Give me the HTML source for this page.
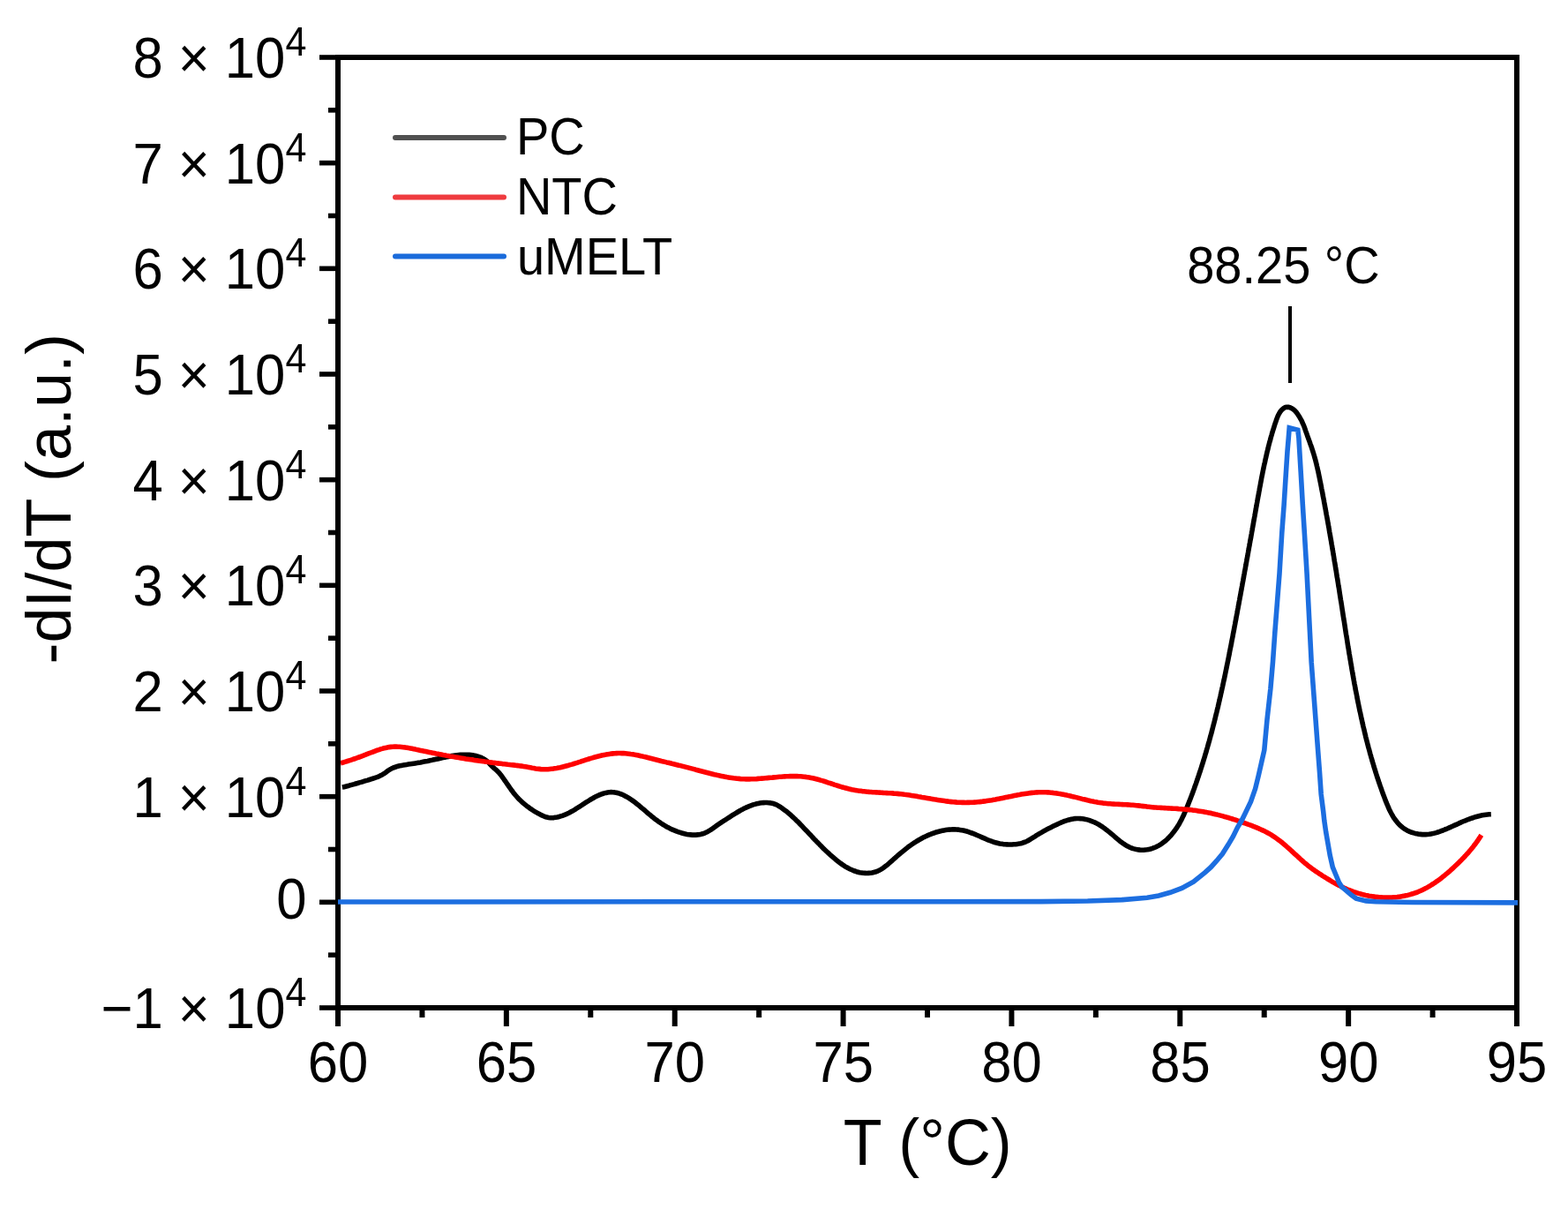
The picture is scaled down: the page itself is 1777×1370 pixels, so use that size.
<!DOCTYPE html>
<html><head><meta charset="utf-8"><title>Melt curve</title>
<style>html,body{margin:0;padding:0;background:#fff;}body{width:1777px;height:1370px;overflow:hidden;}svg{display:block;}</style>
</head><body>
<svg width="1777" height="1370" viewBox="0 0 1777 1370" font-family="'Liberation Sans', Arial, sans-serif" fill="#000">
<path d="M387.8,892.1 L389.8,891.7 L391.7,891.2 L393.6,890.7 L395.6,890.2 L397.5,889.6 L399.4,889.1 L401.4,888.6 L403.3,888.0 L405.2,887.5 L407.1,886.9 L409.1,886.4 L411.0,885.8 L412.9,885.2 L414.8,884.6 L416.7,884.1 L418.6,883.5 L420.5,882.9 L422.5,882.3 L424.4,881.7 L426.2,881.0 L428.1,880.3 L430.0,879.5 L431.8,878.6 L433.5,877.7 L435.2,876.7 L436.9,875.5 L438.5,874.3 L440.1,873.1 L441.8,872.0 L443.5,871.1 L445.3,870.2 L447.2,869.5 L449.1,868.8 L451.0,868.3 L452.9,867.8 L454.9,867.4 L456.9,867.1 L458.8,866.7 L460.8,866.4 L462.8,866.1 L464.8,865.8 L466.8,865.5 L468.7,865.2 L470.7,864.9 L472.7,864.6 L474.6,864.2 L476.6,863.9 L478.6,863.5 L480.6,863.1 L482.5,862.7 L484.5,862.4 L486.4,862.0 L488.4,861.6 L490.4,861.1 L492.3,860.7 L494.3,860.3 L496.2,859.9 L498.2,859.5 L500.1,859.0 L502.1,858.6 L504.0,858.2 L506.0,857.8 L508.0,857.4 L509.9,857.0 L511.9,856.6 L513.9,856.3 L515.8,856.0 L517.8,855.8 L519.8,855.6 L521.8,855.4 L523.8,855.3 L525.8,855.2 L527.8,855.2 L529.8,855.3 L531.8,855.4 L533.8,855.6 L535.8,855.8 L537.8,856.2 L539.7,856.6 L541.6,857.1 L543.5,857.8 L545.4,858.5 L547.2,859.4 L548.9,860.4 L550.6,861.5 L552.2,862.7 L553.6,864.1 L555.0,865.5 L556.4,867.0 L557.8,868.4 L559.2,869.8 L560.7,871.1 L562.3,872.4 L563.7,873.8 L565.1,875.2 L566.4,876.7 L567.7,878.3 L568.9,879.9 L570.0,881.5 L571.2,883.2 L572.3,884.8 L573.5,886.4 L574.6,888.1 L575.7,889.7 L576.9,891.4 L578.0,893.0 L579.2,894.7 L580.4,896.3 L581.6,897.9 L582.8,899.4 L584.1,901.0 L585.4,902.5 L586.7,904.0 L588.1,905.4 L589.5,906.8 L591.0,908.2 L592.5,909.6 L594.0,910.9 L595.5,912.1 L597.1,913.4 L598.7,914.6 L600.3,915.8 L602.0,916.9 L603.6,918.0 L605.3,919.1 L607.0,920.1 L608.8,921.1 L610.5,922.1 L612.3,923.0 L614.1,923.9 L615.9,924.7 L617.7,925.5 L619.7,926.1 L621.6,926.5 L623.6,926.7 L625.6,926.8 L627.6,926.6 L629.6,926.3 L631.5,926.0 L633.5,925.5 L635.4,924.9 L637.3,924.3 L639.2,923.6 L641.0,922.9 L642.9,922.1 L644.7,921.2 L646.4,920.3 L648.2,919.3 L649.9,918.3 L651.6,917.3 L653.3,916.2 L655.0,915.2 L656.7,914.1 L658.4,913.0 L660.1,911.9 L661.7,910.8 L663.4,909.7 L665.1,908.6 L666.8,907.6 L668.5,906.5 L670.2,905.5 L672.0,904.5 L673.7,903.5 L675.5,902.6 L677.3,901.7 L679.1,900.9 L681.0,900.1 L682.8,899.5 L684.7,898.9 L686.7,898.4 L688.6,898.0 L690.6,897.7 L692.6,897.6 L694.6,897.7 L696.6,897.9 L698.6,898.2 L700.5,898.7 L702.4,899.3 L704.3,900.0 L706.1,900.8 L707.9,901.7 L709.7,902.7 L711.4,903.7 L713.1,904.7 L714.8,905.8 L716.4,906.9 L718.1,908.1 L719.7,909.3 L721.2,910.5 L722.8,911.8 L724.4,913.0 L725.9,914.3 L727.4,915.6 L729.0,916.9 L730.5,918.2 L732.0,919.5 L733.5,920.8 L735.0,922.1 L736.6,923.4 L738.1,924.7 L739.7,925.9 L741.2,927.2 L742.8,928.4 L744.4,929.6 L746.0,930.8 L747.7,931.9 L749.3,933.0 L751.0,934.1 L752.7,935.2 L754.4,936.2 L756.2,937.2 L758.0,938.1 L759.7,939.0 L761.5,939.9 L763.4,940.7 L765.2,941.4 L767.1,942.2 L769.0,942.8 L770.9,943.4 L772.8,944.0 L774.7,944.5 L776.7,945.0 L778.6,945.4 L780.6,945.7 L782.6,945.9 L784.6,946.1 L786.6,946.1 L788.6,946.1 L790.6,945.9 L792.6,945.7 L794.5,945.3 L796.5,944.8 L798.4,944.1 L800.2,943.3 L802.0,942.4 L803.7,941.4 L805.4,940.4 L807.1,939.2 L808.7,938.1 L810.3,936.9 L811.9,935.7 L813.6,934.6 L815.2,933.4 L816.9,932.3 L818.6,931.2 L820.2,930.1 L821.9,929.1 L823.6,928.0 L825.3,926.9 L827.0,925.8 L828.7,924.7 L830.3,923.7 L832.0,922.6 L833.7,921.6 L835.5,920.5 L837.2,919.5 L838.9,918.5 L840.7,917.6 L842.4,916.6 L844.2,915.7 L846.0,914.9 L847.9,914.1 L849.7,913.3 L851.6,912.6 L853.5,911.9 L855.4,911.4 L857.3,910.8 L859.3,910.4 L861.2,910.1 L863.2,909.8 L865.2,909.6 L867.2,909.5 L869.2,909.5 L871.2,909.7 L873.2,909.9 L875.2,910.3 L877.1,910.8 L879.0,911.5 L880.8,912.3 L882.5,913.3 L884.2,914.4 L885.9,915.5 L887.5,916.7 L889.1,917.9 L890.7,919.1 L892.3,920.3 L893.8,921.6 L895.3,922.9 L896.8,924.2 L898.3,925.6 L899.8,927.0 L901.2,928.3 L902.6,929.7 L904.1,931.1 L905.5,932.5 L906.9,934.0 L908.3,935.4 L909.7,936.9 L911.0,938.3 L912.4,939.8 L913.8,941.2 L915.2,942.7 L916.5,944.1 L917.9,945.6 L919.3,947.0 L920.6,948.5 L922.0,950.0 L923.4,951.4 L924.8,952.8 L926.2,954.3 L927.6,955.7 L929.0,957.2 L930.4,958.6 L931.8,960.0 L933.2,961.4 L934.6,962.8 L936.1,964.2 L937.5,965.5 L939.0,966.9 L940.5,968.3 L942.0,969.6 L943.5,970.9 L945.0,972.2 L946.5,973.5 L948.1,974.8 L949.6,976.0 L951.2,977.2 L952.8,978.4 L954.5,979.6 L956.1,980.7 L957.8,981.8 L959.5,982.8 L961.3,983.8 L963.1,984.7 L964.9,985.5 L966.7,986.3 L968.6,987.0 L970.5,987.7 L972.4,988.2 L974.3,988.7 L976.3,989.0 L978.3,989.3 L980.3,989.4 L982.3,989.5 L984.3,989.4 L986.3,989.3 L988.3,989.0 L990.2,988.5 L992.1,988.0 L994.0,987.3 L995.9,986.5 L997.6,985.6 L999.3,984.6 L1001.0,983.5 L1002.6,982.3 L1004.2,981.1 L1005.8,979.8 L1007.3,978.5 L1008.8,977.2 L1010.3,975.9 L1011.8,974.5 L1013.3,973.2 L1014.8,971.9 L1016.3,970.5 L1017.8,969.2 L1019.3,967.9 L1020.8,966.6 L1022.4,965.3 L1023.9,964.1 L1025.5,962.8 L1027.0,961.6 L1028.6,960.3 L1030.2,959.1 L1031.8,958.0 L1033.5,956.8 L1035.1,955.7 L1036.8,954.6 L1038.5,953.5 L1040.2,952.5 L1041.9,951.5 L1043.7,950.5 L1045.4,949.5 L1047.2,948.6 L1049.0,947.8 L1050.8,946.9 L1052.6,946.1 L1054.5,945.4 L1056.4,944.6 L1058.2,944.0 L1060.1,943.3 L1062.1,942.7 L1064.0,942.2 L1065.9,941.7 L1067.9,941.3 L1069.8,940.9 L1071.8,940.6 L1073.8,940.3 L1075.8,940.1 L1077.8,940.0 L1079.8,939.9 L1081.8,939.9 L1083.8,940.0 L1085.8,940.1 L1087.8,940.4 L1089.7,940.7 L1091.7,941.0 L1093.6,941.5 L1095.6,942.0 L1097.5,942.6 L1099.4,943.3 L1101.3,944.0 L1103.1,944.7 L1105.0,945.4 L1106.8,946.2 L1108.7,947.0 L1110.5,947.8 L1112.3,948.6 L1114.1,949.4 L1116.0,950.2 L1117.8,951.0 L1119.7,951.8 L1121.5,952.5 L1123.4,953.2 L1125.3,953.9 L1127.2,954.5 L1129.1,955.0 L1131.1,955.5 L1133.0,956.0 L1135.0,956.3 L1137.0,956.6 L1139.0,956.8 L1141.0,956.9 L1142.9,957.0 L1144.9,957.0 L1146.9,957.0 L1148.9,956.8 L1150.9,956.7 L1152.9,956.4 L1154.9,956.1 L1156.9,955.7 L1158.8,955.2 L1160.7,954.5 L1162.6,953.8 L1164.4,953.0 L1166.1,952.0 L1167.8,951.0 L1169.5,949.9 L1171.2,948.8 L1172.9,947.8 L1174.6,946.7 L1176.3,945.7 L1178.0,944.6 L1179.8,943.6 L1181.5,942.6 L1183.2,941.6 L1185.0,940.7 L1186.7,939.7 L1188.5,938.8 L1190.3,937.9 L1192.1,937.0 L1193.9,936.1 L1195.7,935.2 L1197.5,934.4 L1199.3,933.5 L1201.1,932.7 L1203.0,931.9 L1204.8,931.2 L1206.7,930.4 L1208.6,929.8 L1210.5,929.2 L1212.4,928.7 L1214.4,928.2 L1216.3,927.9 L1218.3,927.6 L1220.3,927.5 L1222.3,927.5 L1224.3,927.6 L1226.3,927.8 L1228.3,928.1 L1230.2,928.4 L1232.2,928.9 L1234.1,929.4 L1236.0,930.1 L1237.9,930.8 L1239.7,931.5 L1241.6,932.4 L1243.3,933.3 L1245.1,934.2 L1246.8,935.3 L1248.5,936.4 L1250.1,937.5 L1251.8,938.7 L1253.3,939.9 L1254.9,941.1 L1256.5,942.4 L1258.0,943.6 L1259.5,944.9 L1261.1,946.2 L1262.6,947.5 L1264.1,948.8 L1265.6,950.1 L1267.2,951.4 L1268.7,952.7 L1270.3,953.9 L1271.9,955.1 L1273.5,956.2 L1275.2,957.3 L1276.9,958.4 L1278.7,959.3 L1280.5,960.2 L1282.3,961.0 L1284.2,961.6 L1286.2,962.1 L1288.1,962.6 L1290.1,962.9 L1292.1,963.1 L1294.1,963.2 L1296.1,963.2 L1298.1,963.0 L1300.1,962.8 L1302.0,962.4 L1304.0,962.0 L1305.9,961.4 L1307.8,960.7 L1309.6,960.0 L1311.4,959.1 L1313.2,958.1 L1314.9,957.1 L1316.6,956.0 L1318.2,954.8 L1319.8,953.6 L1321.3,952.3 L1322.8,951.0 L1324.2,949.6 L1325.6,948.1 L1327.0,946.7 L1328.3,945.1 L1329.5,943.6 L1330.7,942.0 L1331.9,940.4 L1333.1,938.8 L1334.2,937.1 L1335.2,935.4 L1336.3,933.7 L1337.2,931.9 L1338.2,930.2 L1339.1,928.4 L1340.0,926.6 L1340.9,924.8 L1341.7,923.0 L1342.5,921.2 L1343.3,919.3 L1344.1,917.5 L1344.9,915.6 L1345.6,913.8 L1346.4,911.9 L1347.1,910.1 L1347.8,908.2 L1348.6,906.3 L1349.3,904.5 L1350.0,902.6 L1350.7,900.7 L1351.4,898.9 L1352.1,897.0 L1352.8,895.1 L1353.5,893.2 L1354.1,891.3 L1354.8,889.5 L1355.5,887.6 L1356.1,885.7 L1356.8,883.8 L1357.4,881.9 L1358.1,880.0 L1358.7,878.1 L1359.3,876.2 L1360.0,874.3 L1360.6,872.4 L1361.2,870.5 L1361.8,868.6 L1362.4,866.7 L1363.0,864.8 L1363.6,862.9 L1364.2,860.9 L1364.8,859.0 L1365.4,857.1 L1365.9,855.2 L1366.5,853.3 L1367.1,851.4 L1367.6,849.4 L1368.2,847.5 L1368.7,845.6 L1369.3,843.7 L1369.8,841.7 L1370.4,839.8 L1370.9,837.9 L1371.4,836.0 L1371.9,834.0 L1372.5,832.1 L1373.0,830.2 L1373.5,828.2 L1374.0,826.3 L1374.5,824.4 L1375.0,822.4 L1375.5,820.5 L1376.0,818.6 L1376.5,816.6 L1377.0,814.7 L1377.4,812.7 L1377.9,810.8 L1378.4,808.8 L1378.9,806.9 L1379.3,805.0 L1379.8,803.0 L1380.3,801.1 L1380.7,799.1 L1381.2,797.2 L1381.6,795.2 L1382.1,793.3 L1382.5,791.3 L1383.0,789.4 L1383.4,787.4 L1383.8,785.5 L1384.3,783.5 L1384.7,781.6 L1385.1,779.6 L1385.6,777.6 L1386.0,775.7 L1386.4,773.7 L1386.8,771.8 L1387.3,769.8 L1387.7,767.9 L1388.1,765.9 L1388.5,764.0 L1388.9,762.0 L1389.3,760.0 L1389.7,758.1 L1390.1,756.1 L1390.5,754.2 L1390.9,752.2 L1391.3,750.2 L1391.7,748.3 L1392.1,746.3 L1392.5,744.3 L1392.9,742.4 L1393.3,740.4 L1393.6,738.5 L1394.0,736.5 L1394.4,734.5 L1394.8,732.6 L1395.2,730.6 L1395.6,728.6 L1395.9,726.7 L1396.3,724.7 L1396.7,722.7 L1397.1,720.8 L1397.4,718.8 L1397.8,716.9 L1398.2,714.9 L1398.6,712.9 L1398.9,711.0 L1399.3,709.0 L1399.7,707.0 L1400.0,705.1 L1400.4,703.1 L1400.8,701.1 L1401.1,699.2 L1401.5,697.2 L1401.9,695.2 L1402.2,693.3 L1402.6,691.3 L1403.0,689.3 L1403.3,687.4 L1403.7,685.4 L1404.1,683.4 L1404.4,681.5 L1404.8,679.5 L1405.1,677.5 L1405.5,675.6 L1405.9,673.6 L1406.2,671.6 L1406.6,669.6 L1407.0,667.7 L1407.3,665.7 L1407.7,663.7 L1408.0,661.8 L1408.4,659.8 L1408.8,657.8 L1409.1,655.9 L1409.5,653.9 L1409.8,651.9 L1410.2,650.0 L1410.5,648.0 L1410.9,646.0 L1411.3,644.1 L1411.6,642.1 L1412.0,640.1 L1412.3,638.2 L1412.7,636.2 L1413.0,634.2 L1413.4,632.3 L1413.8,630.3 L1414.1,628.3 L1414.5,626.3 L1414.8,624.4 L1415.2,622.4 L1415.5,620.4 L1415.9,618.5 L1416.2,616.5 L1416.6,614.5 L1416.9,612.6 L1417.3,610.6 L1417.7,608.6 L1418.0,606.7 L1418.4,604.7 L1418.7,602.7 L1419.1,600.7 L1419.4,598.8 L1419.8,596.8 L1420.1,594.8 L1420.5,592.9 L1420.8,590.9 L1421.2,588.9 L1421.5,587.0 L1421.9,585.0 L1422.2,583.0 L1422.6,581.1 L1422.9,579.1 L1423.3,577.1 L1423.6,575.1 L1424.0,573.2 L1424.3,571.2 L1424.7,569.2 L1425.0,567.3 L1425.4,565.3 L1425.7,563.3 L1426.1,561.4 L1426.5,559.4 L1426.8,557.4 L1427.2,555.5 L1427.5,553.5 L1427.9,551.5 L1428.3,549.6 L1428.6,547.6 L1429.0,545.6 L1429.4,543.7 L1429.7,541.7 L1430.1,539.7 L1430.5,537.8 L1430.9,535.8 L1431.3,533.8 L1431.7,531.9 L1432.1,529.9 L1432.5,528.0 L1432.9,526.0 L1433.4,524.1 L1433.8,522.1 L1434.2,520.1 L1434.7,518.2 L1435.1,516.2 L1435.6,514.3 L1436.0,512.3 L1436.5,510.4 L1437.0,508.5 L1437.4,506.5 L1437.9,504.6 L1438.4,502.6 L1438.9,500.7 L1439.5,498.8 L1440.0,496.8 L1440.5,494.9 L1441.1,493.0 L1441.6,491.1 L1442.2,489.2 L1442.8,487.2 L1443.4,485.3 L1444.0,483.4 L1444.6,481.5 L1445.2,479.6 L1445.9,477.7 L1446.5,475.8 L1447.2,474.0 L1447.9,472.1 L1448.7,470.3 L1449.7,468.5 L1450.7,466.8 L1451.9,465.2 L1453.3,463.8 L1454.9,462.5 L1456.7,461.6 L1458.6,461.2 L1460.6,461.4 L1462.5,462.0 L1464.3,462.9 L1465.9,464.0 L1467.5,465.3 L1468.8,466.8 L1470.0,468.4 L1471.1,470.0 L1472.2,471.7 L1473.2,473.4 L1474.2,475.2 L1475.2,476.9 L1476.0,478.8 L1476.8,480.6 L1477.6,482.4 L1478.3,484.3 L1479.0,486.2 L1479.6,488.1 L1480.3,490.0 L1481.0,491.9 L1481.6,493.7 L1482.3,495.6 L1483.0,497.5 L1483.7,499.4 L1484.4,501.3 L1485.0,503.1 L1485.7,505.0 L1486.4,506.9 L1487.0,508.8 L1487.6,510.7 L1488.2,512.6 L1488.8,514.5 L1489.4,516.5 L1489.9,518.4 L1490.5,520.3 L1491.0,522.2 L1491.5,524.2 L1492.0,526.1 L1492.4,528.1 L1492.9,530.0 L1493.3,532.0 L1493.8,533.9 L1494.2,535.9 L1494.6,537.8 L1495.0,539.8 L1495.4,541.7 L1495.8,543.7 L1496.2,545.7 L1496.6,547.6 L1497.0,549.6 L1497.4,551.6 L1497.7,553.5 L1498.1,555.5 L1498.5,557.4 L1498.9,559.4 L1499.2,561.4 L1499.6,563.3 L1500.0,565.3 L1500.4,567.3 L1500.7,569.2 L1501.1,571.2 L1501.4,573.2 L1501.8,575.1 L1502.2,577.1 L1502.5,579.1 L1502.9,581.0 L1503.2,583.0 L1503.6,585.0 L1504.0,587.0 L1504.3,588.9 L1504.7,590.9 L1505.0,592.9 L1505.4,594.8 L1505.7,596.8 L1506.1,598.8 L1506.4,600.7 L1506.7,602.7 L1507.1,604.7 L1507.4,606.7 L1507.8,608.6 L1508.1,610.6 L1508.5,612.6 L1508.8,614.5 L1509.1,616.5 L1509.5,618.5 L1509.8,620.5 L1510.1,622.4 L1510.5,624.4 L1510.8,626.4 L1511.1,628.4 L1511.5,630.3 L1511.8,632.3 L1512.1,634.3 L1512.4,636.2 L1512.8,638.2 L1513.1,640.2 L1513.4,642.2 L1513.7,644.1 L1514.1,646.1 L1514.4,648.1 L1514.7,650.1 L1515.0,652.0 L1515.3,654.0 L1515.7,656.0 L1516.0,658.0 L1516.3,659.9 L1516.6,661.9 L1516.9,663.9 L1517.3,665.9 L1517.6,667.8 L1517.9,669.8 L1518.2,671.8 L1518.5,673.8 L1518.8,675.7 L1519.1,677.7 L1519.4,679.7 L1519.8,681.7 L1520.1,683.6 L1520.4,685.6 L1520.7,687.6 L1521.0,689.6 L1521.3,691.6 L1521.6,693.5 L1521.9,695.5 L1522.2,697.5 L1522.5,699.5 L1522.8,701.4 L1523.2,703.4 L1523.5,705.4 L1523.8,707.4 L1524.1,709.3 L1524.4,711.3 L1524.7,713.3 L1525.0,715.3 L1525.3,717.2 L1525.6,719.2 L1526.0,721.2 L1526.3,723.2 L1526.6,725.2 L1526.9,727.1 L1527.2,729.1 L1527.5,731.1 L1527.8,733.1 L1528.2,735.0 L1528.5,737.0 L1528.8,739.0 L1529.1,741.0 L1529.5,742.9 L1529.8,744.9 L1530.1,746.9 L1530.5,748.8 L1530.8,750.8 L1531.1,752.8 L1531.5,754.8 L1531.8,756.7 L1532.1,758.7 L1532.5,760.7 L1532.8,762.6 L1533.2,764.6 L1533.5,766.6 L1533.9,768.6 L1534.2,770.5 L1534.6,772.5 L1534.9,774.5 L1535.3,776.4 L1535.7,778.4 L1536.0,780.4 L1536.4,782.3 L1536.8,784.3 L1537.2,786.3 L1537.6,788.2 L1537.9,790.2 L1538.3,792.1 L1538.7,794.1 L1539.1,796.1 L1539.5,798.0 L1539.9,800.0 L1540.3,801.9 L1540.7,803.9 L1541.1,805.9 L1541.6,807.8 L1542.0,809.8 L1542.4,811.7 L1542.8,813.7 L1543.3,815.6 L1543.7,817.6 L1544.1,819.5 L1544.6,821.5 L1545.0,823.4 L1545.5,825.4 L1546.0,827.3 L1546.4,829.3 L1546.9,831.2 L1547.4,833.2 L1547.8,835.1 L1548.3,837.1 L1548.8,839.0 L1549.3,840.9 L1549.8,842.9 L1550.3,844.8 L1550.8,846.7 L1551.4,848.7 L1551.9,850.6 L1552.4,852.5 L1552.9,854.5 L1553.5,856.4 L1554.0,858.3 L1554.6,860.2 L1555.1,862.2 L1555.7,864.1 L1556.3,866.0 L1556.8,867.9 L1557.4,869.8 L1558.0,871.7 L1558.6,873.6 L1559.2,875.6 L1559.8,877.5 L1560.4,879.4 L1561.0,881.3 L1561.7,883.2 L1562.3,885.1 L1562.9,887.0 L1563.6,888.9 L1564.2,890.7 L1564.9,892.6 L1565.6,894.5 L1566.2,896.4 L1566.9,898.3 L1567.6,900.2 L1568.3,902.0 L1569.0,903.9 L1569.7,905.8 L1570.4,907.7 L1571.2,909.5 L1571.9,911.4 L1572.7,913.2 L1573.5,915.0 L1574.3,916.9 L1575.2,918.7 L1576.1,920.5 L1577.0,922.2 L1578.0,924.0 L1579.0,925.7 L1580.1,927.4 L1581.3,929.0 L1582.5,930.6 L1583.7,932.1 L1585.1,933.6 L1586.5,935.1 L1588.0,936.4 L1589.5,937.7 L1591.1,938.8 L1592.8,939.9 L1594.5,940.9 L1596.3,941.8 L1598.2,942.6 L1600.0,943.3 L1602.0,943.9 L1603.9,944.4 L1605.8,944.8 L1607.8,945.2 L1609.8,945.4 L1611.8,945.6 L1613.8,945.6 L1615.8,945.6 L1617.8,945.5 L1619.8,945.3 L1621.8,944.9 L1623.7,944.6 L1625.7,944.1 L1627.6,943.6 L1629.5,943.0 L1631.4,942.4 L1633.3,941.7 L1635.2,941.0 L1637.0,940.2 L1638.9,939.5 L1640.7,938.7 L1642.5,937.9 L1644.4,937.1 L1646.2,936.2 L1648.0,935.4 L1649.8,934.6 L1651.7,933.8 L1653.5,932.9 L1655.3,932.1 L1657.1,931.3 L1659.0,930.5 L1660.8,929.8 L1662.7,929.0 L1664.5,928.3 L1666.4,927.6 L1668.3,927.0 L1670.2,926.3 L1672.1,925.7 L1674.0,925.2 L1676.0,924.7 L1677.9,924.2 L1679.9,923.8 L1681.9,923.5 L1683.8,923.2 L1685.8,923.0 L1687.8,922.8 L1689.8,922.7" fill="none" stroke="#000" stroke-width="5.6" stroke-linejoin="round" stroke-linecap="butt"/>
<path d="M386.0,864.7 L388.0,864.2 L389.9,863.7 L391.8,863.1 L393.7,862.5 L395.6,861.9 L397.5,861.3 L399.4,860.7 L401.3,860.0 L403.2,859.3 L405.1,858.7 L407.0,858.0 L408.8,857.3 L410.7,856.6 L412.6,855.9 L414.4,855.2 L416.3,854.4 L418.2,853.7 L420.0,853.0 L421.9,852.3 L423.8,851.6 L425.7,850.9 L427.5,850.2 L429.4,849.6 L431.3,848.9 L433.2,848.4 L435.2,847.8 L437.1,847.4 L439.1,847.0 L441.1,846.6 L443.0,846.4 L445.0,846.2 L447.0,846.1 L449.0,846.1 L451.0,846.2 L453.0,846.3 L455.0,846.5 L457.0,846.7 L459.0,846.9 L461.0,847.2 L462.9,847.6 L464.9,847.9 L466.9,848.3 L468.8,848.7 L470.8,849.1 L472.7,849.6 L474.7,850.0 L476.7,850.4 L478.6,850.8 L480.6,851.2 L482.5,851.6 L484.5,852.0 L486.5,852.4 L488.4,852.8 L490.4,853.2 L492.3,853.6 L494.3,854.0 L496.3,854.3 L498.2,854.7 L500.2,855.1 L502.2,855.5 L504.1,855.8 L506.1,856.2 L508.1,856.5 L510.0,856.9 L512.0,857.2 L514.0,857.6 L516.0,857.9 L517.9,858.2 L519.9,858.6 L521.9,858.9 L523.8,859.2 L525.8,859.5 L527.8,859.9 L529.8,860.2 L531.7,860.5 L533.7,860.8 L535.7,861.1 L537.7,861.4 L539.7,861.7 L541.6,861.9 L543.6,862.2 L545.6,862.5 L547.6,862.8 L549.6,863.1 L551.5,863.3 L553.5,863.6 L555.5,863.9 L557.5,864.1 L559.5,864.4 L561.5,864.6 L563.4,864.9 L565.4,865.1 L567.4,865.3 L569.4,865.6 L571.4,865.8 L573.4,866.0 L575.4,866.3 L577.4,866.5 L579.3,866.7 L581.3,866.9 L583.3,867.1 L585.3,867.4 L587.3,867.6 L589.3,867.9 L591.3,868.1 L593.2,868.4 L595.2,868.7 L597.2,869.1 L599.2,869.4 L601.1,869.8 L603.1,870.2 L605.1,870.5 L607.0,870.9 L609.0,871.2 L611.0,871.4 L613.0,871.6 L615.0,871.7 L617.0,871.8 L619.0,871.8 L621.0,871.7 L623.0,871.5 L625.0,871.3 L626.9,871.1 L628.9,870.8 L630.9,870.5 L632.9,870.1 L634.8,869.7 L636.8,869.2 L638.7,868.7 L640.6,868.2 L642.6,867.7 L644.5,867.2 L646.4,866.6 L648.3,866.1 L650.3,865.5 L652.2,864.9 L654.1,864.3 L656.0,863.7 L657.9,863.1 L659.8,862.4 L661.7,861.8 L663.6,861.2 L665.5,860.6 L667.4,860.0 L669.3,859.4 L671.2,858.9 L673.2,858.3 L675.1,857.8 L677.0,857.3 L679.0,856.8 L680.9,856.3 L682.9,855.8 L684.8,855.4 L686.8,855.1 L688.7,854.7 L690.7,854.4 L692.7,854.1 L694.7,853.9 L696.7,853.7 L698.7,853.6 L700.7,853.5 L702.7,853.5 L704.7,853.6 L706.7,853.6 L708.7,853.8 L710.7,854.0 L712.7,854.2 L714.6,854.5 L716.6,854.7 L718.6,855.1 L720.6,855.4 L722.5,855.8 L724.5,856.2 L726.4,856.7 L728.4,857.1 L730.3,857.6 L732.3,858.0 L734.2,858.5 L736.1,859.0 L738.1,859.5 L740.0,860.0 L742.0,860.5 L743.9,861.0 L745.8,861.5 L747.8,862.0 L749.7,862.5 L751.7,862.9 L753.6,863.4 L755.6,863.9 L757.5,864.3 L759.4,864.8 L761.4,865.3 L763.3,865.7 L765.3,866.2 L767.2,866.7 L769.2,867.2 L771.1,867.6 L773.0,868.1 L775.0,868.6 L776.9,869.1 L778.9,869.6 L780.8,870.1 L782.7,870.6 L784.7,871.1 L786.6,871.6 L788.5,872.2 L790.5,872.7 L792.4,873.2 L794.3,873.7 L796.3,874.2 L798.2,874.7 L800.1,875.2 L802.1,875.7 L804.0,876.2 L805.9,876.7 L807.9,877.2 L809.8,877.7 L811.8,878.1 L813.7,878.6 L815.7,879.0 L817.6,879.4 L819.6,879.8 L821.6,880.2 L823.5,880.6 L825.5,880.9 L827.5,881.2 L829.5,881.5 L831.4,881.8 L833.4,882.0 L835.4,882.3 L837.4,882.4 L839.4,882.6 L841.4,882.7 L843.4,882.8 L845.4,882.9 L847.4,882.9 L849.4,882.9 L851.4,882.8 L853.4,882.8 L855.4,882.7 L857.4,882.6 L859.4,882.4 L861.4,882.3 L863.4,882.1 L865.4,882.0 L867.4,881.8 L869.3,881.6 L871.3,881.4 L873.3,881.2 L875.3,881.1 L877.3,880.9 L879.3,880.7 L881.3,880.5 L883.3,880.3 L885.3,880.2 L887.3,880.0 L889.3,879.9 L891.3,879.8 L893.3,879.7 L895.3,879.6 L897.3,879.6 L899.3,879.6 L901.3,879.6 L903.3,879.6 L905.3,879.7 L907.3,879.8 L909.3,880.0 L911.3,880.2 L913.2,880.4 L915.2,880.7 L917.2,881.0 L919.2,881.4 L921.1,881.8 L923.1,882.3 L925.0,882.8 L926.9,883.3 L928.9,883.8 L930.8,884.4 L932.7,884.9 L934.6,885.5 L936.5,886.1 L938.4,886.8 L940.3,887.4 L942.2,888.0 L944.1,888.6 L946.0,889.3 L947.9,889.9 L949.8,890.5 L951.7,891.1 L953.6,891.7 L955.6,892.2 L957.5,892.8 L959.4,893.3 L961.4,893.8 L963.3,894.2 L965.3,894.7 L967.2,895.1 L969.2,895.4 L971.2,895.8 L973.1,896.1 L975.1,896.3 L977.1,896.6 L979.1,896.8 L981.1,897.0 L983.1,897.2 L985.1,897.4 L987.1,897.5 L989.1,897.7 L991.1,897.8 L993.1,897.9 L995.0,898.0 L997.0,898.1 L999.0,898.2 L1001.0,898.4 L1003.0,898.5 L1005.0,898.6 L1007.0,898.7 L1009.0,898.8 L1011.0,898.9 L1013.0,899.1 L1015.0,899.2 L1017.0,899.4 L1019.0,899.6 L1021.0,899.8 L1023.0,900.0 L1025.0,900.3 L1026.9,900.5 L1028.9,900.8 L1030.9,901.1 L1032.9,901.4 L1034.9,901.7 L1036.8,902.0 L1038.8,902.3 L1040.8,902.7 L1042.8,903.0 L1044.7,903.4 L1046.7,903.7 L1048.7,904.1 L1050.6,904.4 L1052.6,904.7 L1054.6,905.1 L1056.5,905.4 L1058.5,905.8 L1060.5,906.1 L1062.5,906.4 L1064.4,906.7 L1066.4,907.0 L1068.4,907.3 L1070.4,907.6 L1072.4,907.9 L1074.3,908.1 L1076.3,908.4 L1078.3,908.6 L1080.3,908.8 L1082.3,908.9 L1084.3,909.1 L1086.3,909.2 L1088.3,909.3 L1090.3,909.4 L1092.3,909.4 L1094.3,909.5 L1096.3,909.4 L1098.3,909.4 L1100.3,909.3 L1102.3,909.2 L1104.3,909.1 L1106.3,909.0 L1108.3,908.8 L1110.3,908.6 L1112.2,908.4 L1114.2,908.1 L1116.2,907.9 L1118.2,907.6 L1120.2,907.3 L1122.2,907.0 L1124.1,906.7 L1126.1,906.3 L1128.1,906.0 L1130.0,905.6 L1132.0,905.2 L1134.0,904.8 L1135.9,904.4 L1137.9,904.0 L1139.8,903.6 L1141.8,903.2 L1143.7,902.8 L1145.7,902.4 L1147.7,902.0 L1149.6,901.6 L1151.6,901.2 L1153.6,900.8 L1155.5,900.5 L1157.5,900.1 L1159.5,899.8 L1161.4,899.5 L1163.4,899.2 L1165.4,898.9 L1167.4,898.6 L1169.4,898.4 L1171.4,898.2 L1173.4,898.0 L1175.3,897.9 L1177.3,897.8 L1179.3,897.7 L1181.3,897.7 L1183.3,897.7 L1185.3,897.8 L1187.3,897.9 L1189.3,898.0 L1191.3,898.2 L1193.3,898.4 L1195.3,898.7 L1197.3,898.9 L1199.3,899.3 L1201.2,899.6 L1203.2,899.9 L1205.2,900.3 L1207.1,900.7 L1209.1,901.1 L1211.0,901.6 L1213.0,902.0 L1214.9,902.5 L1216.9,902.9 L1218.8,903.4 L1220.8,903.9 L1222.7,904.4 L1224.6,904.9 L1226.6,905.4 L1228.5,905.8 L1230.5,906.3 L1232.4,906.8 L1234.4,907.2 L1236.3,907.7 L1238.3,908.1 L1240.2,908.5 L1242.2,908.8 L1244.2,909.2 L1246.1,909.5 L1248.1,909.8 L1250.1,910.1 L1252.1,910.3 L1254.1,910.5 L1256.1,910.7 L1258.1,910.8 L1260.1,911.0 L1262.1,911.1 L1264.1,911.2 L1266.1,911.3 L1268.1,911.4 L1270.1,911.5 L1272.0,911.6 L1274.0,911.7 L1276.0,911.8 L1278.0,911.9 L1280.0,912.0 L1282.0,912.2 L1284.0,912.3 L1286.0,912.5 L1288.0,912.7 L1290.0,912.9 L1292.0,913.1 L1294.0,913.4 L1296.0,913.6 L1298.0,913.8 L1299.9,914.1 L1301.9,914.3 L1303.9,914.5 L1305.9,914.7 L1307.9,914.9 L1309.9,915.0 L1311.9,915.2 L1313.9,915.3 L1315.9,915.4 L1317.9,915.5 L1319.9,915.6 L1321.9,915.8 L1323.9,915.9 L1325.9,916.0 L1327.9,916.1 L1329.9,916.2 L1331.9,916.3 L1333.9,916.4 L1335.8,916.6 L1337.8,916.7 L1339.8,916.9 L1341.8,917.0 L1343.8,917.2 L1345.8,917.4 L1347.8,917.6 L1349.8,917.8 L1351.8,918.1 L1353.8,918.3 L1355.7,918.6 L1357.7,918.9 L1359.7,919.2 L1361.7,919.5 L1363.6,919.8 L1365.6,920.2 L1367.6,920.6 L1369.5,920.9 L1371.5,921.3 L1373.5,921.8 L1375.4,922.2 L1377.4,922.7 L1379.3,923.1 L1381.2,923.6 L1383.2,924.1 L1385.1,924.6 L1387.0,925.2 L1389.0,925.7 L1390.9,926.3 L1392.8,926.8 L1394.7,927.4 L1396.6,928.0 L1398.5,928.6 L1400.4,929.2 L1402.3,929.9 L1404.2,930.5 L1406.1,931.1 L1408.0,931.8 L1409.9,932.5 L1411.8,933.1 L1413.7,933.8 L1415.5,934.5 L1417.4,935.2 L1419.3,935.9 L1421.1,936.7 L1423.0,937.4 L1424.9,938.2 L1426.7,938.9 L1428.5,939.8 L1430.3,940.6 L1432.2,941.4 L1433.9,942.3 L1435.7,943.2 L1437.5,944.2 L1439.2,945.2 L1440.9,946.2 L1442.6,947.3 L1444.3,948.4 L1445.9,949.5 L1447.6,950.7 L1449.2,951.9 L1450.8,953.1 L1452.3,954.3 L1453.9,955.6 L1455.4,956.9 L1456.9,958.2 L1458.4,959.5 L1459.9,960.8 L1461.4,962.2 L1462.9,963.5 L1464.4,964.9 L1465.8,966.2 L1467.3,967.6 L1468.8,968.9 L1470.3,970.3 L1471.7,971.6 L1473.2,973.0 L1474.7,974.3 L1476.2,975.6 L1477.7,977.0 L1479.2,978.3 L1480.8,979.5 L1482.3,980.8 L1483.9,982.1 L1485.5,983.3 L1487.1,984.5 L1488.7,985.6 L1490.3,986.8 L1492.0,987.9 L1493.7,989.0 L1495.3,990.1 L1497.0,991.2 L1498.7,992.3 L1500.4,993.3 L1502.1,994.4 L1503.8,995.5 L1505.5,996.5 L1507.2,997.5 L1508.9,998.6 L1510.6,999.6 L1512.4,1000.6 L1514.1,1001.5 L1515.9,1002.5 L1517.7,1003.4 L1519.4,1004.3 L1521.2,1005.2 L1523.0,1006.1 L1524.9,1006.9 L1526.7,1007.7 L1528.5,1008.5 L1530.4,1009.2 L1532.3,1009.9 L1534.2,1010.6 L1536.1,1011.2 L1538.0,1011.8 L1539.9,1012.4 L1541.8,1012.9 L1543.7,1013.5 L1545.7,1013.9 L1547.6,1014.4 L1549.6,1014.8 L1551.5,1015.2 L1553.5,1015.5 L1555.5,1015.9 L1557.5,1016.1 L1559.5,1016.4 L1561.4,1016.6 L1563.4,1016.8 L1565.4,1016.9 L1567.4,1017.0 L1569.4,1017.1 L1571.4,1017.1 L1573.4,1017.1 L1575.4,1017.0 L1577.4,1017.0 L1579.4,1016.8 L1581.4,1016.7 L1583.4,1016.5 L1585.4,1016.2 L1587.4,1015.9 L1589.3,1015.6 L1591.3,1015.2 L1593.3,1014.8 L1595.2,1014.4 L1597.2,1013.9 L1599.1,1013.3 L1601.0,1012.8 L1602.9,1012.1 L1604.8,1011.5 L1606.7,1010.8 L1608.5,1010.0 L1610.3,1009.2 L1612.2,1008.4 L1613.9,1007.5 L1615.7,1006.6 L1617.5,1005.6 L1619.2,1004.6 L1620.9,1003.6 L1622.6,1002.5 L1624.3,1001.5 L1626.0,1000.4 L1627.6,999.2 L1629.3,998.1 L1630.9,996.9 L1632.5,995.7 L1634.1,994.5 L1635.6,993.2 L1637.2,992.0 L1638.7,990.7 L1640.3,989.4 L1641.8,988.1 L1643.3,986.8 L1644.8,985.4 L1646.2,984.1 L1647.7,982.7 L1649.2,981.3 L1650.6,980.0 L1652.1,978.6 L1653.5,977.2 L1654.9,975.8 L1656.3,974.4 L1657.7,972.9 L1659.1,971.5 L1660.5,970.0 L1661.8,968.5 L1663.2,967.1 L1664.5,965.6 L1665.8,964.0 L1667.1,962.5 L1668.3,961.0 L1669.6,959.4 L1670.8,957.8 L1672.0,956.2 L1673.2,954.6 L1674.4,953.0 L1675.5,951.3 L1676.6,949.7 L1677.7,948.0 L1678.8,946.3" fill="none" stroke="#ff0000" stroke-width="5.6" stroke-linejoin="round" stroke-linecap="butt"/>
<rect x="383" y="65" width="1336" height="1077" fill="none" stroke="#000" stroke-width="6"/>
<line x1="362" y1="1142.00" x2="383" y2="1142.00" stroke="#000" stroke-width="5.6"/>
<line x1="372" y1="1082.17" x2="383" y2="1082.17" stroke="#000" stroke-width="5.6"/>
<line x1="362" y1="1022.33" x2="383" y2="1022.33" stroke="#000" stroke-width="5.6"/>
<line x1="372" y1="962.50" x2="383" y2="962.50" stroke="#000" stroke-width="5.6"/>
<line x1="362" y1="902.67" x2="383" y2="902.67" stroke="#000" stroke-width="5.6"/>
<line x1="372" y1="842.83" x2="383" y2="842.83" stroke="#000" stroke-width="5.6"/>
<line x1="362" y1="783.00" x2="383" y2="783.00" stroke="#000" stroke-width="5.6"/>
<line x1="372" y1="723.17" x2="383" y2="723.17" stroke="#000" stroke-width="5.6"/>
<line x1="362" y1="663.33" x2="383" y2="663.33" stroke="#000" stroke-width="5.6"/>
<line x1="372" y1="603.50" x2="383" y2="603.50" stroke="#000" stroke-width="5.6"/>
<line x1="362" y1="543.67" x2="383" y2="543.67" stroke="#000" stroke-width="5.6"/>
<line x1="372" y1="483.83" x2="383" y2="483.83" stroke="#000" stroke-width="5.6"/>
<line x1="362" y1="424.00" x2="383" y2="424.00" stroke="#000" stroke-width="5.6"/>
<line x1="372" y1="364.17" x2="383" y2="364.17" stroke="#000" stroke-width="5.6"/>
<line x1="362" y1="304.33" x2="383" y2="304.33" stroke="#000" stroke-width="5.6"/>
<line x1="372" y1="244.50" x2="383" y2="244.50" stroke="#000" stroke-width="5.6"/>
<line x1="362" y1="184.67" x2="383" y2="184.67" stroke="#000" stroke-width="5.6"/>
<line x1="372" y1="124.83" x2="383" y2="124.83" stroke="#000" stroke-width="5.6"/>
<line x1="362" y1="65.00" x2="383" y2="65.00" stroke="#000" stroke-width="5.6"/>
<line x1="383.00" y1="1142" x2="383.00" y2="1163" stroke="#000" stroke-width="6"/>
<line x1="478.43" y1="1142" x2="478.43" y2="1153" stroke="#000" stroke-width="6"/>
<line x1="573.86" y1="1142" x2="573.86" y2="1163" stroke="#000" stroke-width="6"/>
<line x1="669.29" y1="1142" x2="669.29" y2="1153" stroke="#000" stroke-width="6"/>
<line x1="764.71" y1="1142" x2="764.71" y2="1163" stroke="#000" stroke-width="6"/>
<line x1="860.14" y1="1142" x2="860.14" y2="1153" stroke="#000" stroke-width="6"/>
<line x1="955.57" y1="1142" x2="955.57" y2="1163" stroke="#000" stroke-width="6"/>
<line x1="1051.00" y1="1142" x2="1051.00" y2="1153" stroke="#000" stroke-width="6"/>
<line x1="1146.43" y1="1142" x2="1146.43" y2="1163" stroke="#000" stroke-width="6"/>
<line x1="1241.86" y1="1142" x2="1241.86" y2="1153" stroke="#000" stroke-width="6"/>
<line x1="1337.29" y1="1142" x2="1337.29" y2="1163" stroke="#000" stroke-width="6"/>
<line x1="1432.71" y1="1142" x2="1432.71" y2="1153" stroke="#000" stroke-width="6"/>
<line x1="1528.14" y1="1142" x2="1528.14" y2="1163" stroke="#000" stroke-width="6"/>
<line x1="1623.57" y1="1142" x2="1623.57" y2="1153" stroke="#000" stroke-width="6"/>
<line x1="1719.00" y1="1142" x2="1719.00" y2="1163" stroke="#000" stroke-width="6"/>
<path d="M383.0,1022.0 L1180.0,1021.6 L1232.6,1021.0 L1272.0,1019.6 L1300.0,1017.2 L1313.1,1014.9 L1326.3,1011.3 L1339.4,1006.4 L1352.6,999.1 L1365.7,988.6 L1372.3,982.7 L1378.8,975.5 L1385.4,967.6 L1392.0,957.1 L1397.4,948.0 L1402.5,937.6 L1406.9,930.3 L1410.5,923.0 L1417.5,908.4 L1422.6,893.8 L1426.2,879.2 L1429.5,864.6 L1432.8,850.0 L1436.0,815.2 L1439.9,780.2 L1442.5,750.0 L1444.8,717.0 L1447.4,683.6 L1450.0,650.0 L1452.8,603.3 L1455.1,572.6 L1457.0,542.0 L1459.0,511.3 L1460.3,496.0 L1461.2,484.8 L1470.8,487.2 L1471.9,496.0 L1472.8,511.3 L1474.2,535.0 L1475.2,552.5 L1476.2,570.0 L1477.3,587.6 L1478.4,605.0 L1479.3,620.0 L1481.1,650.0 L1482.8,683.6 L1484.5,717.1 L1486.2,750.7 L1488.7,784.3 L1491.2,817.9 L1493.7,851.4 L1495.5,875.0 L1497.2,900.0 L1499.7,919.6 L1500.8,930.0 L1502.7,943.1 L1505.0,956.3 L1507.3,969.4 L1510.3,982.6 L1514.2,992.0 L1517.5,1000.0 L1520.5,1004.8 L1525.6,1009.1 L1531.3,1014.1 L1536.9,1018.1 L1548.1,1020.9 L1559.4,1021.8 L1600.0,1022.5 L1720.0,1022.9" fill="none" stroke="#1c6ee0" stroke-width="5.6" stroke-linejoin="miter" stroke-linecap="butt"/>
<text transform="translate(347.3,1164.90) scale(1,1.060)" text-anchor="end" font-size="61.6">−1 × 10<tspan font-size="43.0" dy="-23.6">4</tspan></text>
<text transform="translate(347.5,1041.33) scale(1,1.060)" text-anchor="end" font-size="61.6">0</text>
<text transform="translate(347.3,925.57) scale(1,1.060)" text-anchor="end" font-size="61.6">1 × 10<tspan font-size="43.0" dy="-23.6">4</tspan></text>
<text transform="translate(347.3,805.90) scale(1,1.060)" text-anchor="end" font-size="61.6">2 × 10<tspan font-size="43.0" dy="-23.6">4</tspan></text>
<text transform="translate(347.3,686.23) scale(1,1.060)" text-anchor="end" font-size="61.6">3 × 10<tspan font-size="43.0" dy="-23.6">4</tspan></text>
<text transform="translate(347.3,566.57) scale(1,1.060)" text-anchor="end" font-size="61.6">4 × 10<tspan font-size="43.0" dy="-23.6">4</tspan></text>
<text transform="translate(347.3,446.90) scale(1,1.060)" text-anchor="end" font-size="61.6">5 × 10<tspan font-size="43.0" dy="-23.6">4</tspan></text>
<text transform="translate(347.3,327.23) scale(1,1.060)" text-anchor="end" font-size="61.6">6 × 10<tspan font-size="43.0" dy="-23.6">4</tspan></text>
<text transform="translate(347.3,207.57) scale(1,1.060)" text-anchor="end" font-size="61.6">7 × 10<tspan font-size="43.0" dy="-23.6">4</tspan></text>
<text transform="translate(347.3,87.90) scale(1,1.060)" text-anchor="end" font-size="61.6">8 × 10<tspan font-size="43.0" dy="-23.6">4</tspan></text>
<text transform="translate(383.10,1226.2) scale(1,1.060)" text-anchor="middle" font-size="61.6">60</text>
<text transform="translate(573.96,1226.2) scale(1,1.060)" text-anchor="middle" font-size="61.6">65</text>
<text transform="translate(764.81,1226.2) scale(1,1.060)" text-anchor="middle" font-size="61.6">70</text>
<text transform="translate(955.67,1226.2) scale(1,1.060)" text-anchor="middle" font-size="61.6">75</text>
<text transform="translate(1146.53,1226.2) scale(1,1.060)" text-anchor="middle" font-size="61.6">80</text>
<text transform="translate(1337.39,1226.2) scale(1,1.060)" text-anchor="middle" font-size="61.6">85</text>
<text transform="translate(1528.24,1226.2) scale(1,1.060)" text-anchor="middle" font-size="61.6">90</text>
<text transform="translate(1719.10,1226.2) scale(1,1.060)" text-anchor="middle" font-size="61.6">95</text>
<text transform="translate(1051.3,1320) scale(1,1.03)" text-anchor="middle" font-size="71.8">T (°C)</text>
<text transform="translate(80,565.3) rotate(-90)" text-anchor="middle" font-size="71.9">-dI/dT (a.u.)</text>
<line x1="448" y1="156.0" x2="571" y2="156.0" stroke="#505050" stroke-width="6" stroke-linecap="round"/>
<text transform="translate(584.9,175.2) scale(1,1.060)" font-size="56.0">PC</text>
<line x1="448" y1="223.4" x2="571" y2="223.4" stroke="#ef3b3f" stroke-width="6" stroke-linecap="round"/>
<text transform="translate(584.9,243.1) scale(1,1.060)" font-size="56.0">NTC</text>
<line x1="448" y1="290.5" x2="571" y2="290.5" stroke="#1a6bdb" stroke-width="6" stroke-linecap="round"/>
<text transform="translate(585.9,310.8) scale(1,1.060)" font-size="56.0">uMELT</text>
<text transform="translate(1345.2,321.0) scale(1,1.045)" font-size="56">88.25 °C</text>
<line x1="1462" y1="347" x2="1462" y2="434" stroke="#000" stroke-width="4"/>
</svg>
</body></html>
